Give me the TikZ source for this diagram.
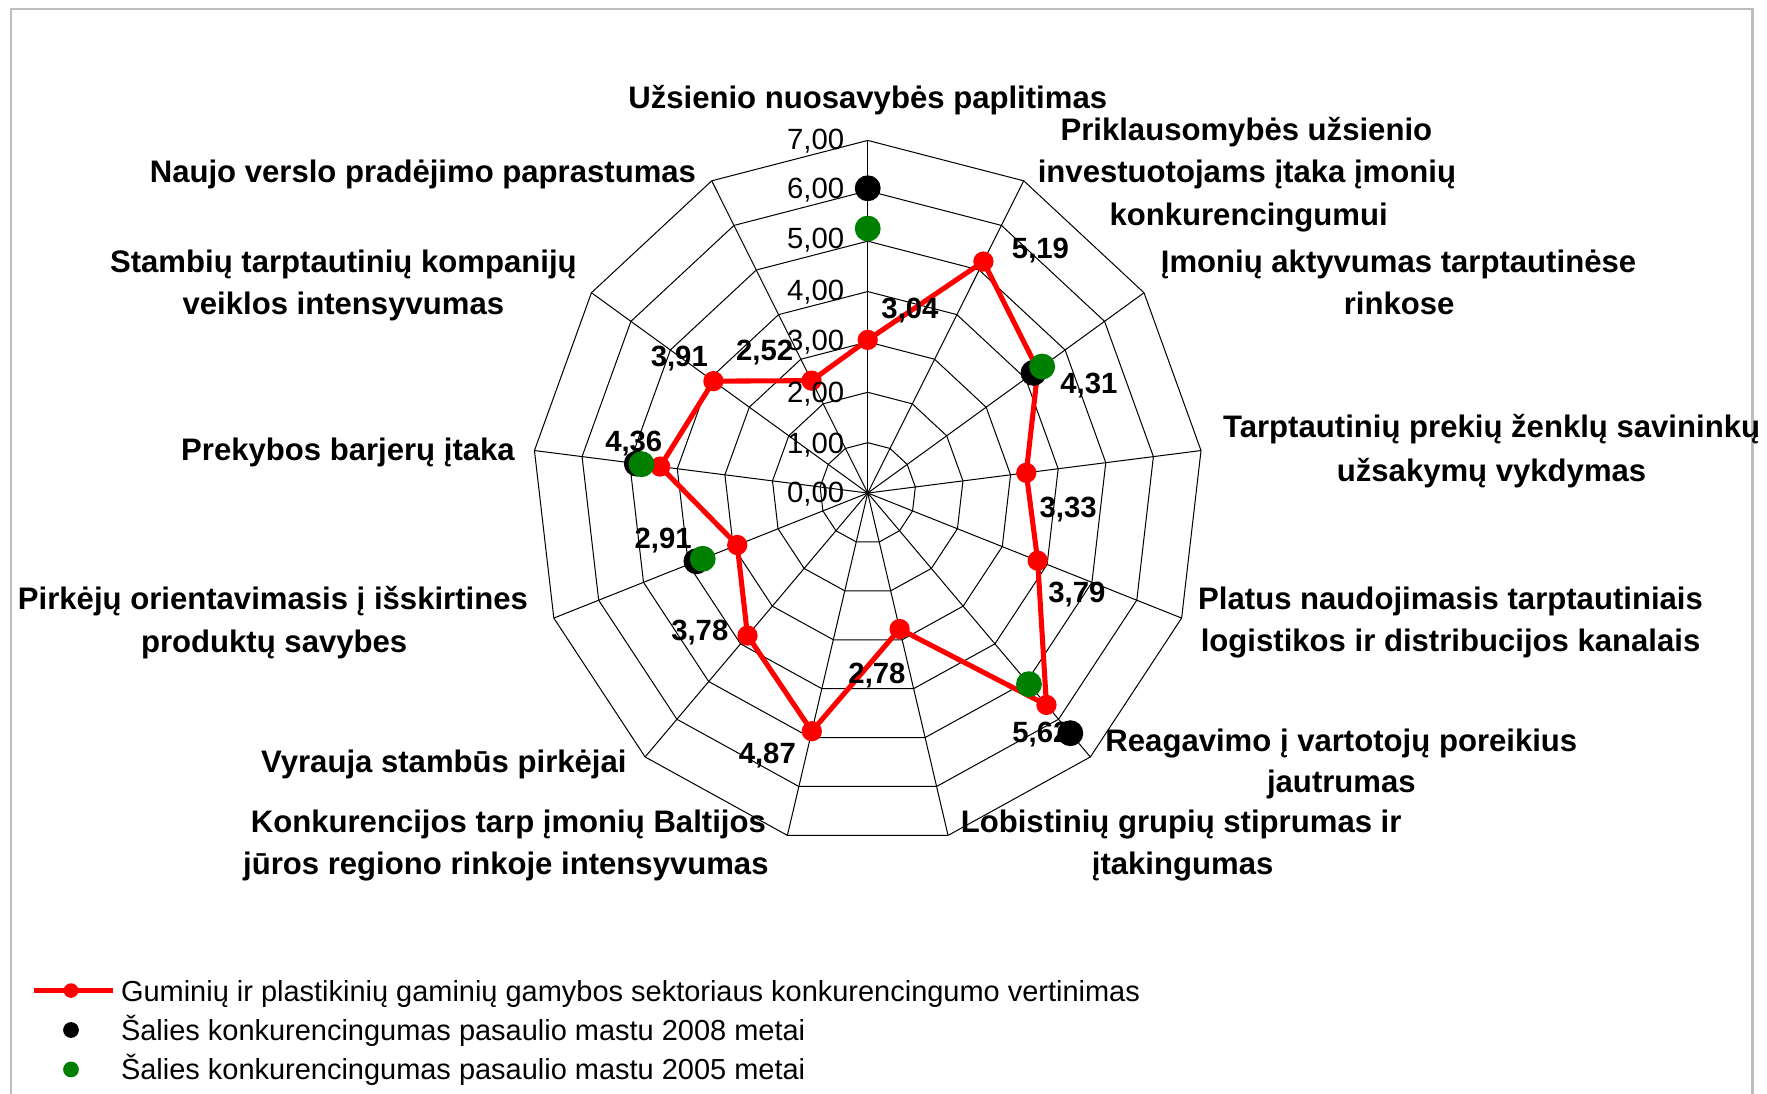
\documentclass[tikz,border=0pt]{standalone}
\usepackage{fontspec}
\setmainfont{Liberation Sans}
\definecolor{grn}{RGB}{0,128,0}
\definecolor{rd}{RGB}{255,0,0}
\definecolor{bordergray}{RGB}{190,190,190}
\begin{document}
\begin{tikzpicture}[x=0.5pt,y=-0.5pt,
  axlab/.style={font=\fontsize{13.8}{16}\selectfont\bfseries, anchor=base, inner sep=0pt},
  vallab/.style={font=\fontsize{13}{15}\selectfont\bfseries, anchor=base, inner sep=0pt},
  ticklab/.style={font=\fontsize{13}{15}\selectfont, anchor=base east, inner sep=0pt},
  leglab/.style={font=\fontsize{12.85}{15}\selectfont, anchor=base west, inner sep=0pt},
  gridline/.style={draw=black, line width=0.45pt},
  redline/.style={draw=rd, line width=2.25pt, line join=round},
  reddot/.style={circle, fill=rd, inner sep=0pt, minimum size=9pt},
  blackdot/.style={circle, fill=black, inner sep=0pt, minimum size=11.5pt},
  greendot/.style={circle, fill=grn, inner sep=0pt, minimum size=11.5pt}]
\useasboundingbox (0,0) rectangle (1568,970);
\draw[bordergray, line width=1pt] (10,980) -- (10,8) -- (1555,8) -- (1555,980);

% radar grid and red series
\begin{scope}[shift={(385pt,-218.75pt)}, x={(21.28pt,0pt)}, y={(0pt,22.35pt)}]
  \coordinate (O) at (0,0);
  \foreach \v in {1,...,7}
    \draw[gridline] (90:\v) \foreach \k in {1,...,12} { -- ({90-\k*360/13}:\v) } -- cycle;
  \foreach \k in {0,...,12}
    \draw[gridline] (O) -- ({90-\k*360/13}:7);
  \foreach \v [count=\k from 0] in {3.04,5.19,4.31,3.33,3.79,5.62,2.78,4.87,3.78,2.91,4.36,3.91,2.52}
    \coordinate (r\k) at ({90-\k*360/13}:\v);
  \draw[redline] (r0) -- (r1) -- (r2) -- (r3) -- (r4) -- (r5) -- (r6) -- (r7) -- (r8) -- (r9) -- (r10) -- (r11) -- (r12) -- cycle;
  \foreach \k in {0,...,12}
    \node[reddot] (rd\k) at (r\k) {};
\end{scope}

% tick labels
\node[ticklab] (t0) at (749.5,445.6) {0,00};
\node[ticklab] (t1) at (749.5,402.7) {1,00};
\node[ticklab] (t2) at (749.5,356.8) {2,00};
\node[ticklab] (t3) at (749.5,311.0) {3,00};
\node[ticklab] (t4) at (749.5,266.6) {4,00};
\node[ticklab] (t5) at (749.5,220.8) {5,00};
\node[ticklab] (t6) at (749.5,176.4) {6,00};
\node[ticklab] (t7) at (749.5,132.9) {7,00};

% data labels
\node[vallab] (v0) at (807.5,282.9) {3,04};
\node[vallab] (v1) at (923.3,229.6) {5,19};
\node[vallab] (v2) at (966.3,349.4) {4,31};
\node[vallab] (v3) at (947.8,458.9) {3,33};
\node[vallab] (v4) at (955.6,534.3) {3,79};
\node[vallab] (v5) at (923.7,658.5) {5,62};
\node[vallab] (v6) at (778.2,606.8) {2,78};
\node[vallab] (v7) at (680.9,677.7) {4,87};
\node[vallab] (v8) at (621.0,568.3) {3,78};
\node[vallab] (v9) at (588.4,487.0) {2,91};
\node[vallab] (v10) at (562.4,400.3) {4,36};
\node[vallab] (v11) at (602.8,325.2) {3,91};
\node[vallab] (v12) at (678.5,319.9) {2,52};

% black and green series
\begin{scope}[shift={(385pt,-218.75pt)}, x={(21.28pt,0pt)}, y={(0pt,22.35pt)}]
  \node[blackdot] (b0) at ({90}:6.05) {};
  \node[blackdot] (b2) at ({90-2*360/13}:4.2) {};
  \node[blackdot] (b5) at ({90-5*360/13}:6.37) {};
  \node[blackdot] (b9) at ({90-9*360/13}:3.82) {};
  \node[blackdot] (b10) at ({90-10*360/13}:4.85) {};
  \node[greendot] (g0) at ({90}:5.25) {};
  \node[greendot] (g2) at ({90-2*360/13}:4.42) {};
  \node[greendot] (g5) at ({90-5*360/13}:5.07) {};
  \node[greendot] (g9) at ({90-9*360/13}:3.68) {};
  \node[greendot] (g10) at ({90-10*360/13}:4.75) {};
\end{scope}

% axis labels
\node[axlab] (L0) at (770,96) {Užsienio nuosavybės paplitimas};
\node[axlab] (L1a) at (1106,124.8) {Priklausomybės užsienio};
\node[axlab] (L1b) at (1106.5,162.3) {investuotojams įtaka įmonių};
\node[axlab] (L1c) at (1108,199.9) {konkurencingumui};
\node[axlab] (L2a) at (1241,242.2) {Įmonių aktyvumas tarptautinėse};
\node[axlab] (L2b) at (1241.6,279) {rinkose};
\node[axlab] (L3a) at (1323.6,388.6) {Tarptautinių prekių ženklų savininkų};
\node[axlab] (L3b) at (1323.6,427) {užsakymų vykdymas};
\node[axlab] (L4a) at (1287.2,540.9) {Platus naudojimasis tarptautiniais};
\node[axlab] (L4b) at (1287.2,577.9) {logistikos ir distribucijos kanalais};
\node[axlab] (L5a) at (1190.3,666.6) {Reagavimo į vartotojų poreikius};
\node[axlab] (L5b) at (1190.3,703.6) {jautrumas};
\node[axlab] (L6a) at (1048.1,739.1) {Lobistinių grupių stiprumas ir};
\node[axlab] (L6b) at (1049.4,776) {įtakingumas};
\node[axlab] (L7a) at (451.1,739.1) {Konkurencijos tarp įmonių Baltijos};
\node[axlab] (L7b) at (448.9,776) {jūros regiono rinkoje intensyvumas};
\node[axlab] (L8) at (393.9,685.8) {Vyrauja stambūs pirkėjai};
\node[axlab] (L9a) at (242.2,540.9) {Pirkėjų orientavimasis į išskirtines};
\node[axlab] (L9b) at (243.3,578.8) {produktų savybes};
\node[axlab] (L10) at (308.8,408.7) {Prekybos barjerų įtaka};
\node[axlab] (L11a) at (304.7,241.6) {Stambių tarptautinių kompanijų};
\node[axlab] (L11b) at (304.7,279.2) {veiklos intensyvumas};
\node[axlab] (L12) at (375.3,162.3) {Naujo verslo pradėjimo paprastumas};

% legend
\coordinate (la) at (30,879);
\coordinate (lb) at (100,879);
\draw[redline] (la) -- (lb);
\node[circle, fill=rd, inner sep=0pt, minimum size=6.5pt] (lrd) at (63,879) {};
\node[leglab] (lt1) at (107,888.3) {Guminių ir plastikinių gaminių gamybos sektoriaus konkurencingumo vertinimas};
\node[circle, fill=black, inner sep=0pt, minimum size=7pt] (lbd) at (63,914) {};
\node[leglab] (lt2) at (107,923.3) {Šalies konkurencingumas pasaulio mastu 2008 metai};
\node[circle, fill=grn, inner sep=0pt, minimum size=7pt] (lgd) at (63,949) {};
\node[leglab] (lt3) at (107,958.3) {Šalies konkurencingumas pasaulio mastu 2005 metai};
\end{tikzpicture}
\end{document}
